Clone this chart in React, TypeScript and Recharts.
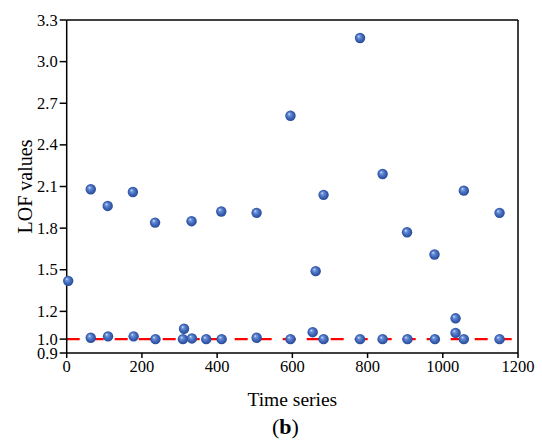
import React from 'react';
import { ScatterChart, Scatter, XAxis, YAxis, ReferenceLine, Label } from 'recharts';

// time index of each sample and its LOF value
const timeIndex = [
  4, 64, 109, 176, 235, 332, 411, 505, 595, 662, 683, 780, 840, 905, 978, 1034, 1056, 1151,
  64, 110, 178, 236, 309, 312, 333, 371, 412, 505, 595, 654, 683, 780, 840, 906, 979, 1034, 1056, 1151,
];
const lofValue = [
  1.42, 2.08, 1.96, 2.06, 1.84, 1.85, 1.92, 1.91, 2.61, 1.49, 2.04, 3.17, 2.19, 1.77, 1.61, 1.15, 2.07, 1.91,
  1.01, 1.02, 1.02, 1.0, 1.0, 1.075, 1.005, 1.0, 1.0, 1.01, 1.0, 1.05, 1.0, 1.0, 1.0, 1.0, 1.0, 1.045, 1.0, 1.0,
];

const xTicks = [0, 200, 400, 600, 800, 1000, 1200];
const yTicks = [0.9, 1.0, 1.2, 1.5, 1.8, 2.1, 2.4, 2.7, 3.0, 3.3];
const threshold = 1.0;

const FONT = '"Liberation Serif", "Times New Roman", serif';
const textStyle = { fontFamily: FONT, fill: '#000' };

const points = timeIndex.map((t, i) => ({ t, lof: lofValue[i] }));

const renderSphere = (props: any) => {
  const { cx, cy } = props;
  return <circle cx={cx} cy={cy} r={5.2} fill="url(#sphere)" />;
};

const renderXTick = (props: any) => {
  const { x, y, payload } = props;
  return (
    <text x={x} y={y + 12} textAnchor="middle" fontSize={16.5} style={textStyle}>
      {payload.value}
    </text>
  );
};

const renderYTick = (props: any) => {
  const { x, y, payload } = props;
  return (
    <text x={x} y={y + 5.5} textAnchor="end" fontSize={16.5} style={textStyle}>
      {Number(payload.value).toFixed(1)}
    </text>
  );
};

const App: React.FC = () => {
  return (
    <div style={{ position: 'absolute', left: 0, top: 0, background: '#fff', fontFamily: FONT }}>
      <style>{'body{margin:0} .recharts-wrapper text{font-family:"Liberation Serif","Times New Roman",serif}'}</style>
      <svg width={0} height={0} style={{ position: 'absolute' }}>
        <defs>
          <radialGradient id="sphere" cx="50%" cy="50%" r="55%" fx="35%" fy="32%">
            <stop offset="0%" stopColor="#e4ecff" />
            <stop offset="22%" stopColor="#6f95dc" />
            <stop offset="60%" stopColor="#3f66b8" />
            <stop offset="100%" stopColor="#22448f" />
          </radialGradient>
        </defs>
      </svg>
      <ScatterChart width={542} height={444} margin={{ top: 20, right: 24, bottom: 0, left: 0 }}>
        <XAxis
          type="number"
          dataKey="t"
          domain={[0, 1200]}
          ticks={xTicks}
          interval={0}
          height={91}
          tickSize={5}
          tickMargin={2}
          stroke="#000"
          strokeWidth={1.5}
          tick={renderXTick}
        >
          <Label
            content={(p: any) => {
              const vb = p.viewBox;
              const cx = vb.x + vb.width / 2;
              return (
                <g>
                  <text x={cx} y={vb.y + 53} textAnchor="middle" fontSize={19.5} style={textStyle}>
                    Time series
                  </text>
                  <text x={cx - 7} y={vb.y + 81} textAnchor="middle" fontSize={22} style={textStyle}>
                    (<tspan fontWeight="bold">b</tspan>)
                  </text>
                </g>
              );
            }}
          />
        </XAxis>
        <YAxis
          type="number"
          dataKey="lof"
          domain={[0.9, 3.3]}
          ticks={yTicks}
          interval={0}
          width={66.7}
          tickSize={7}
          tickMargin={2}
          stroke="#000"
          strokeWidth={1.5}
          tick={renderYTick}
        >
          <Label
            content={() => (
              <text
                x={25}
                y={186.5}
                transform="rotate(-90, 25, 186.5)"
                textAnchor="middle"
                dominantBaseline="central"
                fontSize={20}
                style={textStyle}
              >
                LOF values
              </text>
            )}
          />
        </YAxis>
        <ReferenceLine y={3.3} stroke="#000" strokeWidth={1.5} />
        <ReferenceLine x={1200} stroke="#000" strokeWidth={1.5} />
        <ReferenceLine y={threshold} stroke="#ff0000" strokeWidth={2.2} strokeDasharray="13 11" />
        <Scatter data={points} shape={renderSphere} isAnimationActive={false} />
      </ScatterChart>
    </div>
  );
};

export default App;
